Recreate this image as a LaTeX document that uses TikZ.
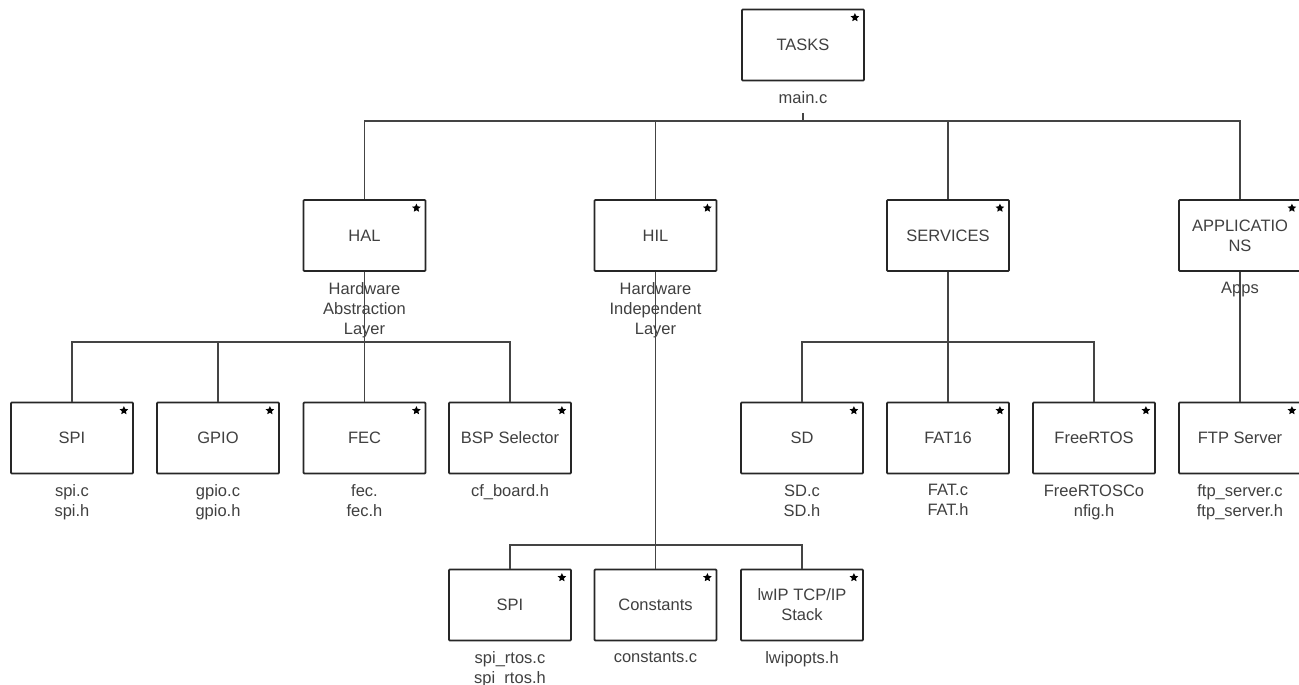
\documentclass[tikz,border=0pt]{standalone}
\usepackage{fontspec}
\setmainfont{Liberation Sans}
\usetikzlibrary{shapes.geometric}
\definecolor{txt}{HTML}{404040}
\definecolor{ln}{HTML}{444444}
\definecolor{bd}{HTML}{262626}
\tikzset{
  box/.style={draw=bd, line width=1.8pt, minimum width=122pt, minimum height=71pt,
    inner sep=2pt, align=center, text=txt, font=\fontsize{16.5}{20}\selectfont, rounded corners=0.8pt},
  sub/.style={anchor=north, inner sep=0pt, align=center, text=txt, font=\fontsize{16.5}{20}\selectfont},
  wire/.style={draw=ln, line width=1.2pt},
  starmark/.style={star, star points=5, star point ratio=2.1, fill=black, draw=none,
    inner sep=0pt, minimum size=9pt}
}
\begin{document}
\begin{tikzpicture}[x=1pt,y=-1pt]
\useasboundingbox (0,0) rectangle (1299,685);
\fill[white] (0,0) rectangle (1299,685);

% boxes
\node[box] (tasks) at (803,45) {TASKS};
\node[box] (hal) at (364.5,235.5) {HAL};
\node[box] (hil) at (655.5,235.5) {HIL};
\node[box] (services) at (948,235.5) {SERVICES};
\node[box] (apps) at (1240,235.5) {APPLICATIO\\NS};

\node[box] (spia) at (72,438) {SPI};
\node[box] (gpio) at (218,438) {GPIO};
\node[box] (fec) at (364.5,438) {FEC};
\node[box] (bsp) at (510,438) {BSP Selector};
\node[box] (sd) at (802,438) {SD};
\node[box] (fat) at (948,438) {FAT16};
\node[box] (freertos) at (1094,438) {FreeRTOS};
\node[box] (ftp) at (1240,438) {FTP Server};

\node[box] (spib) at (510,605) {SPI};
\node[box] (const) at (655.5,605) {Constants};
\node[box] (lwip) at (802,605) {lwIP TCP/IP\\Stack};

% stars
\foreach \n in {tasks,hal,hil,services,apps,spia,gpio,fec,bsp,sd,fat,freertos,ftp,spib,const,lwip}
  \node[starmark] (star-\n) at ([xshift=-10pt,yshift=-9pt]\n.north east) {};

% sub labels
\node[sub] (tasksub) at ([yshift=-10pt]tasks.south) {main.c};
\node[sub] (halsub) at ([yshift=-10pt]hal.south) {Hardware\\Abstraction\\Layer};
\node[sub] (hilsub) at ([yshift=-10pt]hil.south) {Hardware\\Independent\\Layer};
\node[sub] (appsub) at ([yshift=-10pt]apps.south) {Apps};
\node[sub] (spiasub) at ([yshift=-10pt]spia.south) {spi.c\\spi.h};
\node[sub] (gpiosub) at ([yshift=-10pt]gpio.south) {gpio.c\\gpio.h};
\node[sub] (fecsub) at ([yshift=-10pt]fec.south) {fec.\\fec.h};
\node[sub] (bspsub) at ([yshift=-10pt]bsp.south) {cf\_board.h};
\node[sub] (sdsub) at ([yshift=-10pt]sd.south) {SD.c\\SD.h};
\node[sub] (fatsub) at ([yshift=-10pt]fat.south) {FAT.c\\FAT.h};
\node[sub] (freertossub) at ([yshift=-10pt]freertos.south) {FreeRTOSCo\\nfig.h};
\node[sub] (ftpsub) at ([yshift=-10pt]ftp.south) {ftp\_server.c\\ftp\_server.h};
\node[sub] (spibsub) at ([yshift=-10pt]spib.south) {spi\_rtos.c\\spi\_rtos.h};
\node[sub] (constsub) at ([yshift=-10pt]const.south) {constants.c};
\node[sub] (lwipsub) at ([yshift=-10pt]lwip.south) {lwipopts.h};

% connectors
\coordinate (j0) at (803,121);
\draw[wire] ([yshift=-9pt]tasksub.south) -- (j0);
\draw[wire] (j0) -| (hal.north);
\draw[wire] (j0) -| (hil.north);
\draw[wire] (j0) -| (services.north);
\draw[wire] (j0) -| (apps.north);

\coordinate (j1) at (364.5,342);
\draw[wire] (hal.south) -- (fec.north);
\draw[wire] (j1) -| (spia.north);
\draw[wire] (j1) -| (gpio.north);
\draw[wire] (j1) -| (bsp.north);

\coordinate (j2) at (655.5,545);
\draw[wire] (hil.south) -- (const.north);
\draw[wire] (j2) -| (spib.north);
\draw[wire] (j2) -| (lwip.north);

\coordinate (j3) at (948,342);
\draw[wire] (services.south) -- (fat.north);
\draw[wire] (j3) -| (sd.north);
\draw[wire] (j3) -| (freertos.north);

\draw[wire] (apps.south) -- (ftp.north);
\end{tikzpicture}
\end{document}
